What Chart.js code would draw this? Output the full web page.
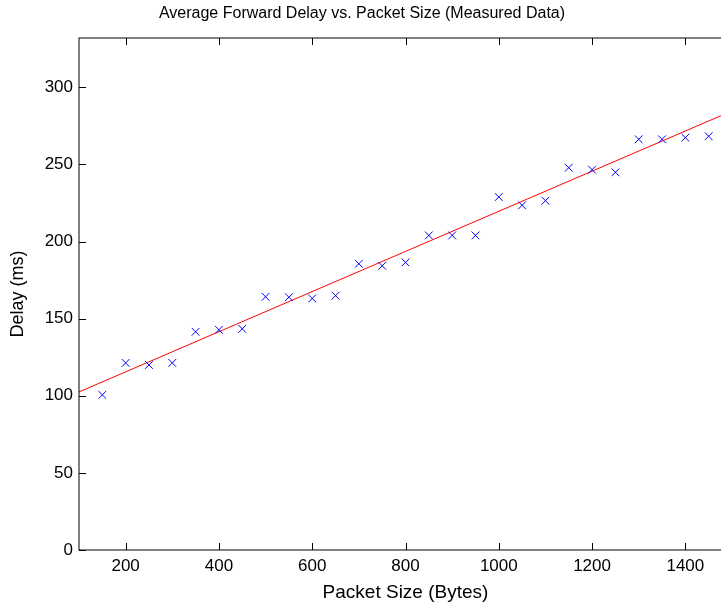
<!DOCTYPE html>
<html>
<head>
<meta charset="utf-8">
<script src="https://cdn.jsdelivr.net/npm/chart.js@4/dist/chart.umd.min.js"></script>
<style>
  html, body { margin: 0; padding: 0; background: #fff; overflow: hidden; }
  #wrap { position: relative; width: 740px; height: 607px; }
</style>
</head>
<body>
<div id="wrap"><canvas id="c" width="740" height="607"></canvas></div>
<script>
// Measured average forward delay per packet size
const packetSizes = [150, 200, 250, 300, 350, 400, 450, 500, 550, 600, 650, 700, 750, 800,
                     850, 900, 950, 1000, 1050, 1100, 1150, 1200, 1250, 1300, 1350, 1400, 1450];
const delays = [100.6, 121.3, 120.0, 121.3, 141.5, 142.8, 143.4, 164.2, 163.9, 163.1, 164.9,
                185.6, 184.3, 186.5, 204.0, 204.0, 204.0, 228.9, 223.5, 226.5, 247.9, 246.6,
                244.9, 266.3, 266.3, 267.4, 268.3];

// Linear fit line end points
const fitSizes = [100, 1500];
const fitDelays = [102.5, 284.7];

// Axis ticks
const xTicks = [200, 400, 600, 800, 1000, 1200, 1400];
const yTicks = [0, 50, 100, 150, 200, 250, 300];

const titleText = 'Average Forward Delay vs. Packet Size (Measured Data)';
const xTitle = 'Packet Size (Bytes)';
const yTitle = 'Delay (ms)';

const FONT = '"Liberation Sans", Arial, Helvetica, sans-serif';

// Box around the axes, inward tick marks and the title
const axesBox = {
  id: 'axesBox',
  afterDraw(chart) {
    const { ctx, chartArea: a, scales: { x, y } } = chart;
    ctx.save();
    ctx.strokeStyle = '#000';
    ctx.lineWidth = 1;
    ctx.strokeRect(a.left, a.top, a.right - a.left, a.bottom - a.top);
    ctx.beginPath();
    const tl = 7;
    xTicks.forEach(v => {
      const px = Math.round(x.getPixelForValue(v)) + 0.5;
      ctx.moveTo(px, a.bottom); ctx.lineTo(px, a.bottom - tl);
      ctx.moveTo(px, a.top); ctx.lineTo(px, a.top + tl);
    });
    yTicks.forEach(v => {
      const py = Math.round(y.getPixelForValue(v)) + 0.5;
      ctx.moveTo(a.left, py); ctx.lineTo(a.left + tl, py);
      ctx.moveTo(a.right, py); ctx.lineTo(a.right - tl, py);
    });
    ctx.stroke();
    ctx.fillStyle = '#000';
    ctx.font = '16px ' + FONT;
    ctx.textAlign = 'center';
    ctx.textBaseline = 'middle';
    ctx.fillText(titleText, 362, 14);
    ctx.restore();
  }
};

new Chart(document.getElementById('c'), {
  type: 'scatter',
  data: {
    datasets: [
      {
        label: 'Measured',
        data: packetSizes.map((s, i) => ({ x: s, y: delays[i] })),
        pointStyle: 'crossRot',
        pointRadius: 5.5,
        pointHoverRadius: 5.5,
        borderColor: '#0000ff',
        backgroundColor: '#0000ff',
        borderWidth: 1,
        showLine: false
      },
      {
        label: 'Fit',
        data: fitSizes.map((s, i) => ({ x: s, y: fitDelays[i] })),
        showLine: true,
        borderColor: '#ff0000',
        borderWidth: 1,
        pointRadius: 0,
        fill: false
      }
    ]
  },
  options: {
    responsive: false,
    animation: false,
    events: [],
    layout: { padding: { top: 38, right: 8, left: 0, bottom: 0 } },
    plugins: {
      legend: { display: false },
      tooltip: { enabled: false },
      title: { display: false }
    },
    scales: {
      x: {
        type: 'linear',
        min: 100,
        max: 1500,
        grid: { display: false, drawTicks: false },
        border: { display: false },
        afterBuildTicks(scale) { scale.ticks = xTicks.map(v => ({ value: v })); },
        afterFit(scale) { scale.height = 57; },
        ticks: { color: '#000', padding: 6, font: { family: FONT, size: 17 }, maxRotation: 0,
                 callback: v => String(v) },
        title: { display: true, text: xTitle, color: '#000', padding: { top: 0, bottom: 3 },
                 font: { family: FONT, size: 19 } }
      },
      y: {
        type: 'linear',
        min: 0,
        max: 332,
        grid: { display: false, drawTicks: false },
        border: { display: false },
        afterBuildTicks(scale) { scale.ticks = yTicks.map(v => ({ value: v })); },
        afterFit(scale) { scale.width = 79; },
        ticks: { color: '#000', padding: 6, font: { family: FONT, size: 17 },
                 callback: v => String(v) },
        title: { display: true, text: yTitle, color: '#000', padding: { top: 7, bottom: 0 },
                 font: { family: FONT, size: 18 } }
      }
    }
  },
  plugins: [axesBox]
});
</script>
</body>
</html>
